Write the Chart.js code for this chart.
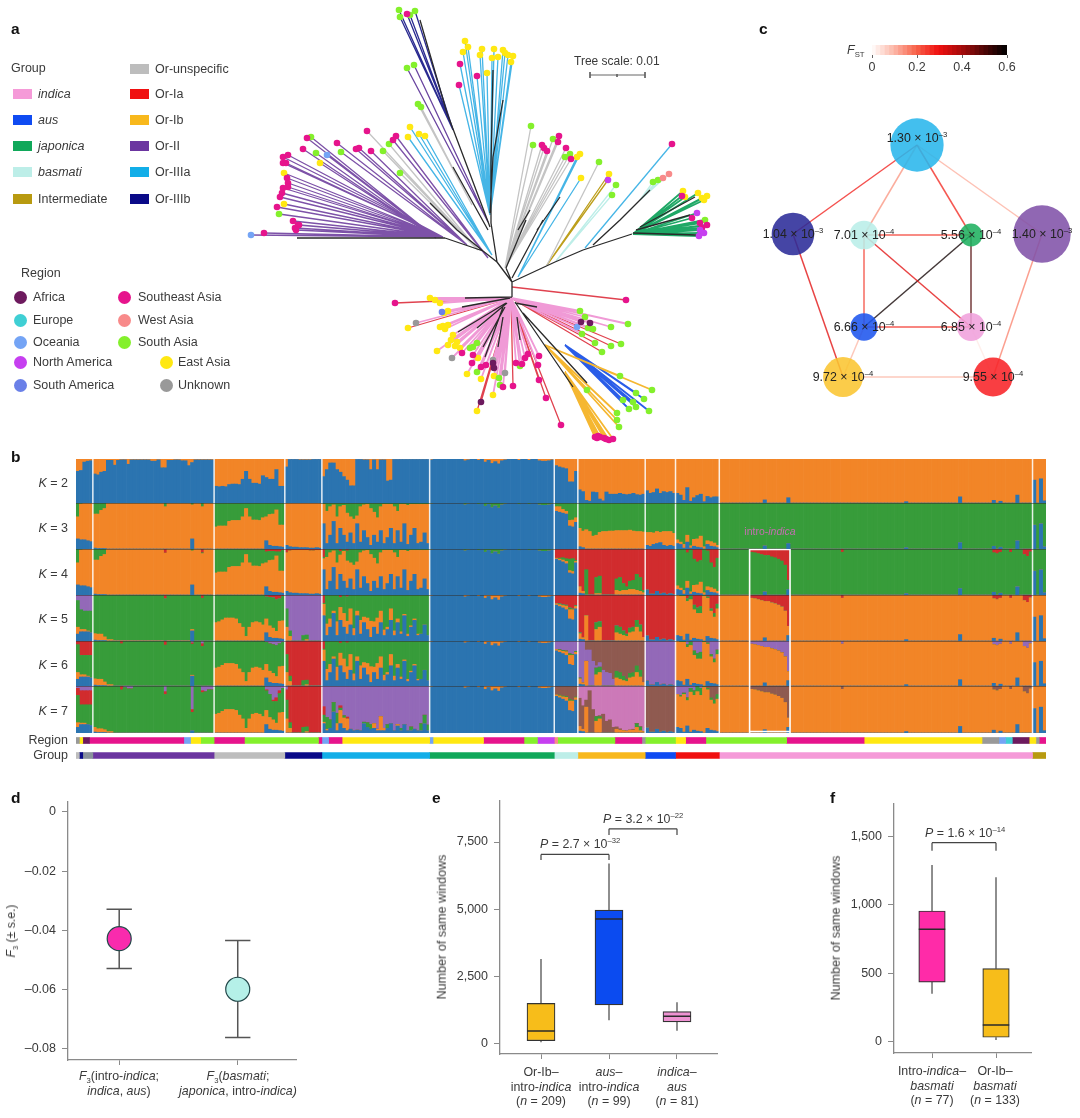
<!DOCTYPE html>
<html>
<head>
<meta charset="utf-8">
<script src="https://cdn.jsdelivr.net/npm/chart.js@4/dist/chart.umd.min.js"></script>
<style>
  html, body { margin: 0; padding: 0; background: #fff; }
  #page { position: relative; width: 1080px; height: 1118px; overflow: hidden; font-family: "Liberation Sans", Arial, sans-serif; color: #3a3a3a; font-size: 12.5px; filter: blur(0.35px); }
  #page canvas { position: absolute; }
  .t { position: absolute; white-space: nowrap; line-height: 1.15; }
  .t sup, .t sub { font-size: 0.62em; line-height: 0; }
  .swatch { position: absolute; }
</style>
</head>
<body>
<div id="page"></div>
<script>
const regionColors = { A: '#6d1a5e', E: '#3fcfd4', O: '#74a4f5', N: '#c63ff0', M: '#6a80e8', S: '#e6148c', W: '#f88a8a', G: '#84f02c', Y: '#ffe812', U: '#999999' };

const leavesIIIb = [[399,10,'G'],[400,17,'G'],[410,15,'G'],[415,11,'G'],[407,14,'S']];
const leavesIIa = [[407,68,'G'],[414,65,'G']];
const leavesIIIaTop = [[465,41,'Y'],[468,47,'Y'],[463,52,'Y'],[460,64,'S'],[459,85,'S'],[482,49,'Y'],[480,55,'Y'],[477,76,'S'],[487,73,'Y'],[494,49,'Y'],[492,58,'Y'],[498,57,'Y'],[503,50,'Y'],[505,53,'Y'],[508,55,'Y'],[513,56,'Y'],[511,62,'Y']];
const leavesGrayTop = [[418,104,'G'],[421,107,'G']];
const leavesIIFan = [[283,157,'S'],[288,155,'S'],[283,163,'S'],[286,163,'S'],[284,173,'Y'],[287,178,'S'],[288,183,'S'],[288,187,'S'],[283,188,'S'],[282,193,'S'],[280,197,'S'],[284,204,'Y'],[277,207,'S'],[279,214,'G'],[293,221,'S'],[298,225,'S'],[295,228,'S'],[299,225,'S'],[296,230,'S'],[264,233,'S'],[251,235,'O']];
const leavesIIb = [[307,138,'S'],[311,137,'G'],[303,149,'S'],[316,153,'G'],[327,155,'O'],[320,163,'Y']];
const leavesIIc = [[337,143,'S'],[341,152,'G'],[356,149,'S'],[359,148,'S'],[371,151,'S']];
const leavesGrayLeft = [[367,131,'S'],[383,151,'G'],[389,144,'G'],[400,173,'G']];
const leavesIId = [[396,136,'S'],[393,140,'S']];
const leavesIIIaLeft = [[410,127,'Y'],[408,137,'Y'],[419,134,'Y'],[425,136,'Y']];
const leavesGrayRight = [[531,126,'G'],[533,145,'G'],[542,145,'S'],[544,148,'S'],[547,151,'S'],[559,136,'S'],[558,142,'S'],[553,139,'G'],[566,148,'S'],[565,157,'G'],[570,154,'G'],[571,159,'S']];
const leavesIIIaMid = [[580,154,'Y'],[577,157,'Y'],[581,178,'Y']];
const leavesGrayFar = [[599,162,'G']];
const leavesIntermediate = [[609,174,'Y'],[608,180,'N']];
const leavesBasmatiA = [[616,185,'G'],[612,195,'G']];
const leavesIIIaFar = [[672,144,'S']];
const leavesBasmatiB = [[653,182,'G'],[658,180,'G'],[663,178,'W'],[669,174,'W']];
const leavesJaponica = [[683,191,'Y'],[685,197,'Y'],[682,196,'S'],[698,193,'Y'],[702,198,'Y'],[707,196,'Y'],[704,200,'Y'],[697,213,'N'],[692,218,'S'],[705,220,'G'],[700,223,'S'],[707,225,'S'],[702,228,'S'],[700,230,'N'],[704,233,'N'],[699,236,'N']];
const leavesIa = [[395,303,'S'],[408,328,'Y'],[481,402,'A'],[477,411,'Y'],[513,386,'S'],[539,380,'S'],[546,398,'S'],[561,425,'S'],[611,346,'G'],[621,344,'G'],[602,352,'G'],[595,343,'G']];
const leavesIaTop = [[626,300,'S']];
const leavesIndica = [[430,298,'Y'],[440,303,'Y'],[435,300,'Y'],[448,311,'Y'],[444,313,'Y'],[442,312,'M'],[416,323,'U'],[443,326,'Y'],[440,327,'Y'],[448,325,'Y'],[445,329,'Y'],[453,335,'Y'],[448,345,'Y'],[457,342,'Y'],[460,348,'Y'],[451,340,'Y'],[455,346,'Y'],[437,351,'Y'],[452,358,'U'],[462,353,'S'],[473,347,'G'],[477,343,'G'],[470,348,'G'],[473,355,'S'],[478,358,'Y'],[472,363,'S'],[467,374,'Y'],[477,372,'G'],[481,367,'S'],[486,365,'S'],[481,379,'Y'],[493,363,'A'],[494,368,'A'],[493,360,'U'],[494,376,'Y'],[499,378,'G'],[505,373,'U'],[503,387,'S'],[500,385,'G'],[493,395,'Y'],[516,363,'S'],[522,364,'S'],[525,358,'S'],[528,354,'S'],[520,366,'G'],[539,356,'S'],[538,365,'S'],[580,311,'G'],[585,317,'G'],[628,324,'G'],[611,327,'G'],[581,322,'A'],[590,323,'A'],[577,327,'O'],[588,328,'G'],[593,329,'G'],[582,334,'G']];
const leavesIbA = [[620,376,'G'],[652,390,'G'],[587,390,'G'],[617,413,'G'],[617,420,'G'],[619,427,'G']];
const leavesIbB = [[597,438,'S'],[600,437,'S'],[598,436,'S'],[604,438,'S'],[606,439,'S'],[609,440,'S'],[613,439,'S'],[595,437,'S']];
const leavesAus = [[636,393,'G'],[644,399,'G'],[649,411,'G'],[623,400,'G'],[633,402,'G'],[629,409,'G'],[636,407,'G']];

// apex x, apex y, branch colour, leaves
const treeClades = [
  [453,130,'#2a2a90',leavesIIIb],
  [488,222,'#6a45a0',leavesIIa],
  [490,215,'#45b5e6',leavesIIIaTop],
  [472,205,'#c4c4c4',leavesGrayTop],
  [443,237,'#7d52a8',leavesIIFan],
  [436,238,'#7d52a8',leavesIIb],
  [467,245,'#7d52a8',leavesIIc],
  [478,250,'#c4c4c4',leavesGrayLeft],
  [488,258,'#7d52a8',leavesIId],
  [492,255,'#45b5e6',leavesIIIaLeft],
  [505,268,'#c4c4c4',leavesGrayRight],
  [518,277,'#45b5e6',leavesIIIaMid],
  [547,265,'#c4c4c4',leavesGrayFar],
  [547,265,'#bd9f1c',leavesIntermediate],
  [556,261,'#bdeee8',leavesBasmatiA],
  [585,248,'#45b5e6',leavesIIIaFar],
  [640,200,'#bdeee8',leavesBasmatiB],
  [633,234,'#1fa866',leavesJaponica],
  [511,298,'#f09ad6',leavesIndica],
  [511,298,'#e0424f',leavesIa],
  [512,287,'#e0424f',leavesIaTop],
  [545,345,'#f5b731',leavesIbA],
  [565,372,'#f5b731',leavesIbB],
  [565,345,'#2a5de8',leavesAus]
];
const wideBranches = ['#f09ad6','#f5b731','#1fa866','#2a5de8'];

// black internal branches: x1, y1, x2, y2
const treeTrunk = [
  [512,282,512,297],[512,282,497,262],[497,262,483,251],[483,251,445,238],[445,238,297,238],
  [497,262,491,223],[491,223,491,163],[491,163,493,70],[503,100,493,157],[493,157,490,213],
  [490,227,447,113],[447,113,420,20],[453,167,488,230],[430,203,457,230],[457,230,483,251],
  [512,282,506,268],[506,268,526,220],[530,210,518,230],[512,278,543,220],[560,197,537,230],
  [512,282,555,262],[555,262,583,250],[583,250,632,234],[593,245,620,220],[620,220,650,190],
  [640,227,695,197],[633,233,697,235],[636,230,690,215],
  [512,297,465,298],[510,298,462,307],[506,303,458,332],[507,303,477,328],[505,307,483,347],
  [503,307,485,357],[503,317,498,347],[515,303,537,307],[515,302,573,387],[523,313,587,383],
  [517,317,520,340]
];
const treeScaleBar = [[590,75,645,75],[590,72,590,78],[645,72,645,78],[617,74,617,77]];

// ---------- data: panel b, admixture ----------
const sectionSizes = [5,36,21,11,32,37,7,20,9,13,93,4];
const introBoxCols = [200,212];
const kValues = [2,3,4,5,6,7];
const admixColors = { blue: '#2b74b0', orange: '#f28527', green: '#379c3a', red: '#d12c2e', purple: '#9369b8', brown: '#8f5a50', pink: '#cc79b8' };
const kComponents = [
  ['blue','orange'],
  ['blue','orange','green'],
  ['blue','orange','green','red'],
  ['blue','orange','green','purple','red'],
  ['blue','orange','green','red','purple','brown'],
  ['blue','orange','green','red','purple','brown','pink']
];

// rows are [run length, percent of component 0, 1, 2 ...]; one component per section takes what is left
const cols = comps => {
  const n = Math.max(...Array.from(comps).filter(Boolean).map(a => a.length));
  const rows = [];
  for (let i = 0; i < n; i++) rows.push([1, ...Array.from(comps, a => (a ? (a[i] || 0) : 0))]);
  return rows;
};
const unrun = runs => runs.flatMap(([n, v]) => Array(n).fill(v));

const s1K2 = [[1,72],[1,74],[1,93],[1,95],[1,96]];
const s1K3 = [[1,22,0,30],[1,20,0,2],[1,20,0,0],[1,18,0,0],[1,16,0,0]];
const s1K5 = [[1,15,15,0,12],[1,20,5,0,32],[1,20,5,0,35],[1,20,2,0,35],[1,18,0,0,35]];
const s1K6 = [[1,15,15,0,8],[1,20,5,0,32],[1,20,5,0,32],[1,20,2,0,32],[1,18,0,0,32]];
const s1K7 = [[1,12,10,0,15,5],[1,18,3,0,30,10],[1,18,3,0,30,10],[1,18,0,0,30,10],[1,16,0,0,30,10]];

const s2K2 = [[1,66],[1,64],[1,70],[1,72],[2,97],[1,86],[1,97],[2,98],[1,88],[6,98],[2,95],[1,98],[2,80],[2,97],[2,98],[2,96],[1,85],[1,92],[6,98]];
const s2K3 = [[1,2,0,24],[1,1,0,24],[1,1,0,16],[1,1,0,12],[17,0,0,1],[1,0,0,8],[7,0,0,1],[1,22,0,4],[2,0,0,1],[1,0,0,8],[3,0,0,1]];
const s2K4 = [[1,2,0,24],[1,1,0,24],[1,1,0,16],[1,1,0,12],[17,0,0,1],[1,0,0,0,9],[7,0,0,1],[1,22,0,3,1],[2,0,0,1],[1,0,0,2,8],[3,0,0,1]];
const s2K5 = [[1,2,14],[1,1,14],[1,1,14],[1,1,8],[2,0,3],[15,0,1],[1,0,0,0,0,8],[7,0,1],[1,22,3],[2,0,0],[1,0,0,0,0,7],[3,0,0]];
const s2K6 = [[1,2,14],[1,1,14],[1,1,14],[1,1,8],[2,0,3],[2,0,0],[1,0,0,0,6],[12,0,0],[1,0,0,0,9],[7,0,0],[1,22,2,0,3,4],[2,0,0],[1,0,0,0,6,6],[3,0,0]];
const s2K7 = [[1,2,10],[1,1,8],[1,1,8],[1,1,6],[2,0,3],[2,0,0],[1,0,0,0,8],[1,0,0,0,0,3],[2,0,0,0,0,6],[9,0,0],[1,0,0,0,6,12],[7,0,0],[1,5,0,0,6,50],[2,0,0],[1,0,0,0,4,10],[1,0,0,0,0,12],[2,0,0,0,0,8]];

const s3BlueK2 = [38,37,38,37,42,43,43,42,54,72,54,45,45,43,62,58,54,54,76,38,38];
const s3Blue = [0,0,0,0,0,0,0,0,0,0,0,0,0,0,0,18,8,6,6,5,4];
const s3OrangeK3 = [48,50,50,50,60,62,62,62,70,88,70,63,63,62,68,52,67,70,79,47,48];
const s3RedK4 = [0,0,0,0,0,0,0,0,0,1,1,1,1,1,1,6,5,5,6,6,3];
const s3OrangeK5 = [40,42,46,50,50,50,48,38,30,10,30,40,42,40,35,30,25,22,15,38,40];
const s3RedK5 = [0,0,0,0,0,0,0,0,0,0,0,0,0,0,0,4,5,6,10,8,3];
const s3PurpleK6 = [0,0,0,0,0,0,0,0,0,0,0,0,0,0,0,3,6,8,10,6,3];
const s3RedK7 = [0,0,0,0,0,0,0,0,0,0,0,0,0,0,0,2,0,3,8,6,0];
const s3PurpleK7 = [0,0,0,0,0,0,0,0,0,0,0,0,0,0,0,8,18,30,25,10,5];

const s4K2 = [[1,82],[3,99],[4,98],[3,99]];
const s4K3 = [[1,8],[1,5],[2,4],[3,3],[2,2],[1,3],[1,2]];
const s4K4 = [[1,8,0,0,8],[1,5,0,0,4],[2,4,0,0,3],[3,3,0,0,3],[2,2,0,0,4],[1,3,0,0,3],[1,2,0,0,3]];
const s4K5 = [[1,0,30,40],[1,0,10,12],[3,0,0,0],[1,0,0,12],[1,0,3,10],[4,0,0,0]];
const s4K7 = [[1,0,30,40,0,8],[1,0,10,12],[3,0,0,0],[1,0,0,12],[1,0,3,10],[4,0,0,0]];

const s5BlueK2 = [60,76,91,91,76,70,60,52,39,39,99,99,98,98,76,98,76,98,98,50,52,99,99,99,99,99,99,99,99,99,99,99];
const s5Blue = [55,12,30,60,12,45,30,15,35,12,55,15,40,25,8,30,15,40,12,25,45,12,40,15,55,10,30,45,12,15,35,12];
const s5GreenK3 = [3,18,8,4,30,8,5,22,30,35,28,8,4,3,12,20,32,8,3,3,3,8,18,3,3,5,3,3,3,3,3,3];
const s5RedK4 = [18,0,0,0,0,5,0,4];
const s5OrangeK5 = [25,25,18,5,30,28,30,28,35,15,10,30,12,25,35,12,35,25,12,5,25,10,8,5,3,5,3,3,3,0,0,0];
const s5BlueK7 = [20,5,10,45,5,20,10,5,8,5,6,5,20,12,8,10,5,5,5,10,20,5,15,5,18,5,5,8,5,5,20,5];
const s5OrangeK7 = [3,3,0,0,15,28,22,25,0,0,0,0,0,0,0,10,3,30,5,0,0,0,3,0,0,0,0,0,0,0,0,0];
const s5GreenK7 = [15,25,18,20,22,5,5,0,0,0,0,0,3,10,10,0,0,0,0,8,0,0,0,5,0,0,8,0,0,15,18,12];

const s6TipRuns = [[1,2],[9,0],[1,4],[1,2],[2,0],[1,3],[1,0],[1,7],[1,3],[1,10],[1,6],[1,11],[1,4],[1,2],[3,0],[1,3],[2,0],[1,3],[2,0],[1,4],[1,5],[1,5],[1,4],[1,2]];
const s6Rows = idx => s6TipRuns.map(([n, v]) => { const row = [n]; row[idx + 1] = v; return row; });

const s7BlueK2 = [85,82,80,78,48,48,72];
const s7BlueK3 = [82,80,78,76,50,48,58];
const s7OrangeK3 = [10,12,8,6,12,15,10];
const s7K4 = [[1,78,2,0],[1,75,3,2],[1,72,4,5],[1,68,5,6],[1,48,5,25],[1,46,5,28],[1,70,3,2]];
const s7K5 = [[1,78,3,0],[1,75,4,2],[1,72,5,2],[1,68,8,2],[1,48,20,4],[1,46,22,2],[1,70,5,2]];

const s8BlueK2 = [30,26,6,4,25,24,9,5,25,20,20,20,22,20,19,20,22,19,18,20];
const s8BlueK3 = [5,3];
const s8OrangeK3 = [40,36,42,38,28,30,36,38,38,39,39,40,40,40,40,41,39,38,38,37];
const s8BlueK4 = [4,3];
const s8OrangeK4 = [14,5,0,0,0,3,3,0,0,0,0,10,8,10,10,12,12,10,8,5];
const s8GreenK4 = [0,0,55,0,0,35,38,0,0,0,0,25,30,15,8,18,20,35,30,5];
const s8OrangeK5 = [12,4,55,0,0,25,30,0,0,0,0,18,15,12,10,18,20,30,20,8];
const s8GreenK5 = [2,0,0,0,0,15,12,0,0,0,0,15,15,10,5,10,10,15,15,0];
const s8PurpleK6 = [83,92,25,80,55,5,10,35,30,28,15];
const s8OrangeK7 = [10,5,55,0,0,25,30,0,0,0,0,8,6,5,4,6,6,12,5,3];
const s8GreenK7 = [0,0,0,0,0,10,5,0,0,0,0,0,0,0,0,0,0,8,8,0];
const s8BrownK7 = [60,50,15,90,50,0,2,40,25,28,12,5,3,0,0,0,2,0,0,0];

const s9BlueK2 = [28,22,24,32,22,26,24,26,22];
const s9BlueK3 = [8,6,10,12,14,8,6,8,6];
const s9OrangeK3 = [28,30,25,26,22,30,32,30,28];
const s9BlueK4 = [11,2,2,8,2,4,1,3,1];

const s10BlueK2 = [22,18,6,35,4,12,17,20,3,15,12,14,14];
const s10Blue = [12,10,2,15,2,6,4,3,0,10,6,5,3];
const s10Orange = [8,5,8,15,5,15,18,25,5,8,10,8,5];
const s10Hang = [0,0,0,8,2,22,28,25,0,4,30,40,20];
const s10Green = [0,3,3,6,8,10,12,15,3,3,5,8,10];
const s10PurpleK7 = [18,20,15,25,5,10,0,5];
const s10BrownK7 = [0,0,0,0,0,0,0,0,0,5,25,30,18];

const s11BlueRuns = [[13,0],[1,7],[6,0],[1,12],[34,0],[1,3],[15,0],[1,14],[9,0],[1,6],[1,0],[1,4],[4,0],[1,18],[4,0]];
const s11HangRuns = [[9,0],[1,7],[1,8],[1,10],[1,12],[1,14],[1,14],[1,17],[1,19],[1,22],[1,26],[1,35],[1,68],[15,0],[1,7],[44,0],[1,8],[1,10],[1,7],[2,0],[1,7],[3,0],[1,12],[1,16],[1,6]];
const s11Rows = hangIdx => { const c = [unrun(s11BlueRuns)]; if (hangIdx) c[hangIdx] = unrun(s11HangRuns); return cols(c); };
const s12Rows = [[1,52],[1,0],[1,55],[1,5]];

// [component that takes the rest, rows] for each of the 12 sections
const panelK2 = [[1,s1K2],[1,s2K2],[1,cols([s3BlueK2])],[1,s4K2],[1,cols([s5BlueK2])],[0,s6Rows(1)],[1,cols([s7BlueK2])],[1,cols([s8BlueK2])],[1,cols([s9BlueK2])],[1,cols([s10BlueK2])],[1,s11Rows(0)],[1,s12Rows]];
const panelK3 = [[1,s1K3],[1,s2K3],[2,cols([s3Blue,s3OrangeK3])],[1,s4K3],[1,cols([s5Blue,null,s5GreenK3])],[0,s6Rows(2)],[2,cols([s7BlueK3,s7OrangeK3])],[2,cols([s8BlueK3,s8OrangeK3])],[2,cols([s9BlueK3,s9OrangeK3])],[2,cols([s10Blue,s10Orange])],[2,s11Rows(0)],[2,s12Rows]];
const panelK4 = [[1,s1K3],[1,s2K4],[2,cols([s3Blue,s3OrangeK3,null,s3RedK4])],[1,s4K4],[1,cols([s5Blue,null,s5GreenK3,s5RedK4])],[0,s6Rows(2)],[3,s7K4],[3,cols([s8BlueK4,s8OrangeK4,s8GreenK4])],[3,cols([s9BlueK4])],[2,cols([s10Blue,s10Orange,null,s10Hang])],[2,s11Rows(3)],[2,s12Rows]];
const panelK5 = [[2,s1K5],[2,s2K5],[2,cols([s3Blue,s3OrangeK5,null,null,s3RedK5])],[3,s4K5],[2,cols([s5Blue,s5OrangeK5,null,null,s5RedK4])],[0,s6Rows(1)],[4,s7K5],[4,cols([s8BlueK4,s8OrangeK5,s8GreenK5])],[4,cols([s9BlueK4])],[1,cols([s10Blue,null,s10Green,null,s10Hang])],[1,s11Rows(4)],[1,s12Rows]];
const panelK6 = [[2,s1K6],[2,s2K6],[2,cols([s3Blue,s3OrangeK5,null,null,s3PurpleK6])],[3,s4K5],[2,cols([s5Blue,s5OrangeK5,null,s5RedK4])],[0,s6Rows(1)],[4,s7K5],[5,cols([s8BlueK4,s8OrangeK5,s8GreenK5,null,s8PurpleK6])],[4,cols([s9BlueK4])],[1,cols([s10Blue,null,s10Green,null,s10Hang])],[1,s11Rows(4)],[1,s12Rows]];
const panelK7 = [[2,s1K7],[2,s2K7],[2,cols([s3Blue,s3OrangeK5,null,s3RedK7,s3PurpleK7])],[3,s4K7],[4,cols([s5BlueK7,s5OrangeK7,s5GreenK7,s5RedK4])],[0,s6Rows(1)],[5,s7K5],[6,cols([s8BlueK4,s8OrangeK7,s8GreenK7,null,null,s8BrownK7])],[5,cols([s9BlueK4])],[1,cols([s10Blue,null,s10Green,null,s10PurpleK7,s10BrownK7])],[1,s11Rows(5)],[1,s12Rows]];
const panels = [panelK2,panelK3,panelK4,panelK5,panelK6,panelK7];

const regionRuns = [['U',1],['Y',1],['A',2],['S',28],['O',2],['Y',3],['G',4],['S',9],['G',22],['S',1],['O',2],['S',4],['Y',26],['O',1],['Y',15],['S',12],['G',4],['N',5],['W',1],['G',17],['S',8],['U',1],['G',9],['Y',3],['S',6],['G',24],['S',23],['Y',35],['U',5],['O',2],['E',2],['A',5],['Y',2],['U',1],['S',2]];
const groupColors = { indica: '#f59ad8', aus: '#0f4bf2', japonica: '#10a85a', basmati: '#bdeee8', inter: '#b89a10', unspec: '#bdbdbd', Ia: '#f01010', Ib: '#f8b81c', II: '#6b35a0', IIIa: '#12aee8', IIIb: '#0a0a88', mixed: '#8a939c' };
const groupRuns = [['unspec',1],['IIIb',1],['mixed',3],['II',36],['unspec',21],['IIIb',11],['IIIa',32],['japonica',37],['basmati',7],['Ib',20],['aus',9],['Ia',13],['indica',93],['inter',4]];

// ---------- data: panel c, network ----------
const nodeX = [177,53,124,231,302,124,231,103,253];
const nodeY = [45,134,135,135,134,227,227,277,277];
const nodeColors = ['#29b6ec','#2b2b98','#b9eee8','#1fb060','#8152a8','#1e55ee','#f0a0dc','#fbc531','#f82328'];
const nodeDiversity = [1.30e-3,1.04e-3,7.01e-4,5.56e-4,1.40e-3,6.66e-4,6.85e-4,9.72e-4,9.55e-4];
const nodeMantissa = ['1.30','1.04','7.01','5.56','1.40','6.66','6.85','9.72','9.55'];
const nodeExponent = [3,3,4,4,3,4,4,4,4];
const edgeFrom = [0,0,0,0,1,2,2,2,3,3,5,5,6,7,4];
const edgeTo = [1,2,3,4,7,3,5,6,5,6,6,7,8,8,8];
const edgeFst = [0.28,0.14,0.27,0.11,0.32,0.25,0.24,0.32,0.58,0.5,0.26,0.1,0.03,0.1,0.16];
const fstLevels = [0.01,0.03,0.05,0.07,0.09,0.11,0.13,0.15,0.17,0.19,0.21,0.23,0.25,0.27,0.29,0.31,0.33,0.35,0.37,0.39,0.41,0.43,0.45,0.47,0.49,0.51,0.53,0.55,0.57,0.59];
const fstTicks = [0,0.2,0.4,0.6];
const fstStops = [[0,255,255,255],[0.1,252,184,168],[0.2,248,98,74],[0.3,239,16,16],[0.4,168,12,12],[0.5,80,6,6],[0.6,0,0,0]];

// ---------- data: panels d, e, f ----------
const f3Value = [-0.0428,-0.0599];
const f3Upper = [-0.0329,-0.0434];
const f3Lower = [-0.0529,-0.0762];
const f3Colors = ['#f92bad','#b5f0e8'];
const f3Ticks = [0,-0.02,-0.04,-0.06,-0.08];

const eLow = [50,870,480];
const eQ1 = [112,1440,810];
const eMedian = [470,4640,1020];
const eQ3 = [1500,4970,1190];
const eHigh = [3150,6700,1540];
const eColors = ['#f7bd1a','#0b4bf0','#ee92d2'];
const eTicks = [0,2500,5000,7500];
const eBrackets = [[0,1,7040,6830],[1,2,7990,7760]];

const fLow = [351,12];
const fQ1 = [436,32];
const fMedian = [822,122];
const fQ3 = [956,534];
const fHigh = [1292,1202];
const fColors = ['#ff2ba8','#f7bd1a'];
const fTicks = [0,500,1000,1500];
const fBrackets = [[0,1,1456,1397]];

// ---------- page helpers ----------
Chart.defaults.font.family = '"Liberation Sans", Arial, sans-serif';
Chart.defaults.font.size = 12;
Chart.defaults.color = '#3a3a3a';
Chart.defaults.animation = false;
Chart.defaults.responsive = false;
Chart.defaults.layout.autoPadding = false;
Chart.defaults.plugins.legend.display = false;
Chart.defaults.plugins.tooltip.enabled = false;

const page = document.getElementById('page');

function addCanvas(left, top, w, h) {
  const c = document.createElement('canvas');
  c.width = w; c.height = h;
  c.style.left = left + 'px'; c.style.top = top + 'px';
  page.appendChild(c);
  return c;
}

// anchor: l = left edge, c = centre, r = right edge; y is always the middle of the line
function addText(x, y, html, anchor, css) {
  const d = document.createElement('div');
  d.className = 't';
  d.innerHTML = html;
  d.style.left = x + 'px'; d.style.top = y + 'px';
  const tx = anchor === 'c' ? '-50%' : anchor === 'r' ? '-100%' : '0';
  d.style.transform = 'translate(' + tx + ',-50%)';
  if (css) d.style.cssText += css;
  page.appendChild(d);
  return d;
}

function fstColor(v) {
  for (let i = 1; i < fstStops.length; i++) {
    if (v <= fstStops[i][0]) {
      const a = fstStops[i - 1], b = fstStops[i], t = (v - a[0]) / (b[0] - a[0]);
      return 'rgb(' + [1, 2, 3].map(k => Math.round(a[k] + (b[k] - a[k]) * t)).join(',') + ')';
    }
  }
  return 'rgb(0,0,0)';
}

// chart.js reserves room for the outer tick labels, these axes do not need it
function noMargins(s) {
  s.paddingTop = 0; s.paddingBottom = 0; s.paddingLeft = 0; s.paddingRight = 0;
}

// ---------- panel a ----------
function segments(list) {
  const pts = [];
  list.forEach(s => { pts.push({ x: s[0], y: s[1] }, { x: s[2], y: s[3] }, { x: null, y: null }); });
  return pts;
}

const treeDatasets = [];
Object.keys(regionColors).forEach(code => {
  const pts = [];
  treeClades.forEach(cl => cl[3].forEach(l => { if (l[2] === code) pts.push({ x: l[0], y: l[1] }); }));
  treeDatasets.push({ data: pts, backgroundColor: regionColors[code], borderWidth: 0, pointRadius: 3.3, showLine: false, order: 0 });
});
treeDatasets.push({ data: segments(treeScaleBar), showLine: true, borderColor: '#666', borderWidth: 1, pointRadius: 0, order: 0 });
treeDatasets.push({ data: segments(treeTrunk), showLine: true, borderColor: '#2a2a2a', borderWidth: 1.3, pointRadius: 0, order: 1 });
treeClades.forEach(cl => {
  const segs = cl[3].map(l => [cl[0], cl[1], l[0], l[1]]);
  treeDatasets.push({ data: segments(segs), showLine: true, borderColor: cl[2], borderWidth: wideBranches.includes(cl[2]) ? 1.8 : 1.3, pointRadius: 0, order: 2 });
});

new Chart(addCanvas(0, 0, 720, 450), {
  type: 'scatter',
  data: { datasets: treeDatasets },
  options: {
    layout: { padding: 0 },
    scales: {
      x: { display: false, min: 0, max: 720 },
      y: { display: false, min: 0, max: 450, reverse: true }
    }
  }
});
addText(574, 62, 'Tree scale: 0.01', 'l', 'font-size:12px;');

const letterCss = 'font-weight:bold;font-size:15.5px;color:#111;';
addText(11, 29, 'a', 'l', letterCss);
addText(11, 457, 'b', 'l', letterCss);
addText(759, 29, 'c', 'l', letterCss);
addText(11, 798, 'd', 'l', letterCss);
addText(432, 798, 'e', 'l', letterCss);
addText(830, 798, 'f', 'l', letterCss);

const groupLegendLeft = [['indica','<i>indica</i>',94],['aus','<i>aus</i>',120],['japonica','<i>japonica</i>',146],['basmati','<i>basmati</i>',172],['inter','Intermediate',199]];
const groupLegendRight = [['unspec','Or-unspecific',69],['Ia','Or-Ia',94],['Ib','Or-Ib',120],['II','Or-II',146],['IIIa','Or-IIIa',172],['IIIb','Or-IIIb',199]];
addText(11, 68, 'Group', 'l');
function swatch(x, y, col) {
  const s = document.createElement('div');
  s.className = 'swatch';
  s.style.cssText = 'left:' + x + 'px;top:' + (y - 5) + 'px;width:19px;height:10px;background:' + col + ';';
  page.appendChild(s);
}
groupLegendLeft.forEach(g => { swatch(13, g[2], groupColors[g[0]]); addText(38, g[2], g[1], 'l'); });
groupLegendRight.forEach(g => { swatch(130, g[2], groupColors[g[0]]); addText(155, g[2], g[1], 'l'); });

addText(21, 273, 'Region', 'l');
const regionLegend = [['A','Africa',20,297,33],['E','Europe',20,320,33],['O','Oceania',20,342,33],['N','North America',20,362,33],['M','South America',20,385,33],['S','Southeast Asia',124,297,138],['W','West Asia',124,320,138],['G','South Asia',124,342,138],['Y','East Asia',166,362,178],['U','Unknown',166,385,178]];
regionLegend.forEach(r => {
  const s = document.createElement('div');
  s.className = 'swatch';
  s.style.cssText = 'left:' + (r[2] - 6.5) + 'px;top:' + (r[3] - 6.5) + 'px;width:13px;height:13px;border-radius:50%;background:' + regionColors[r[0]] + ';';
  page.appendChild(s);
  addText(r[4], r[3], r[1], 'l');
});

// ---------- panel b ----------
const totalCols = sectionSizes.reduce((a, b) => a + b, 0);
const colLabels = [];
for (let i = 0; i < totalCols; i++) colLabels.push(String(i));

function expandPanel(sections, nComp) {
  const series = [];
  for (let c = 0; c < nComp; c++) series.push([]);
  sections.forEach((sec, si) => {
    const rest = sec[0];
    let left = sectionSizes[si];
    const rows = sec[1];
    const put = vals => {
      let sum = 0;
      for (let c = 0; c < nComp; c++) {
        if (c === rest) continue;
        const v = vals[c] || 0;
        series[c].push(v); sum += v;
      }
      series[rest].push(Math.max(0, 100 - sum));
      left--;
    };
    rows.forEach(r => { for (let n = 0; n < r[0] && left > 0; n++) put(r.slice(1)); });
    const last = rows[rows.length - 1].slice(1);
    while (left > 0) put(last);
  });
  return series;
}

const boundaries = [];
sectionSizes.slice(0, -1).reduce((a, b) => { boundaries.push(a + b); return a + b; }, 0);

function panelOverlay(k) {
  return {
    id: 'overlay',
    afterDraw(chart) {
      const { ctx, chartArea: a, scales: { x } } = chart;
      ctx.save();
      ctx.strokeStyle = 'rgba(255,255,255,0.88)';
      ctx.lineWidth = 1.5;
      boundaries.forEach(b => {
        const px = x.getPixelForValue(b - 0.5);
        ctx.beginPath(); ctx.moveTo(px, a.top); ctx.lineTo(px, a.bottom); ctx.stroke();
      });
      if (k > 0) {
        ctx.strokeStyle = 'rgba(50,50,50,0.55)';
        ctx.lineWidth = 1;
        ctx.beginPath(); ctx.moveTo(a.left, a.top + 0.5); ctx.lineTo(a.right, a.top + 0.5); ctx.stroke();
      }
      if (k >= 2) {
        const l = x.getPixelForValue(introBoxCols[0] - 0.5), r = x.getPixelForValue(introBoxCols[1] - 0.5);
        ctx.strokeStyle = '#fff';
        ctx.lineWidth = 1.6;
        ctx.beginPath();
        ctx.moveTo(l, a.top); ctx.lineTo(l, a.bottom);
        ctx.moveTo(r, a.top); ctx.lineTo(r, a.bottom);
        if (k === 2) { ctx.moveTo(l, a.top + 0.5); ctx.lineTo(r, a.top + 0.5); }
        if (k === 5) { ctx.moveTo(l, a.bottom - 1.5); ctx.lineTo(r, a.bottom - 1.5); }
        ctx.stroke();
      }
      ctx.restore();
    }
  };
}

const panelTop = [459,503,549,595,641,686];
const panelHeight = [44,46,46,46,45,47];
const kLabelY = [483,528,574,619,665,711];

panels.forEach((sections, k) => {
  const comps = kComponents[k];
  const series = expandPanel(sections, comps.length);
  new Chart(addCanvas(76, panelTop[k], 970, panelHeight[k]), {
    type: 'bar',
    data: {
      labels: colLabels,
      datasets: comps.map((name, c) => ({ data: series[c], backgroundColor: admixColors[name], borderWidth: 0, barPercentage: 1, categoryPercentage: 1 }))
    },
    options: {
      layout: { padding: 0 },
      scales: {
        x: { display: false, stacked: true },
        y: { display: false, stacked: true, min: 0, max: 100 }
      }
    },
    plugins: [panelOverlay(k)]
  });
  addText(68, kLabelY[k], '<i>K</i> = ' + kValues[k], 'r');
});
addText(770, 531, 'intro-<i>indica</i>', 'c', 'font-size:10.5px;color:#c46fb0;');

const stripDatasets = [];
regionRuns.forEach(r => stripDatasets.push({ data: [r[1], null], backgroundColor: regionColors[r[0]], borderWidth: 0, barThickness: 6 }));
groupRuns.forEach(r => stripDatasets.push({ data: [null, r[1]], backgroundColor: groupColors[r[0]], borderWidth: 0, barThickness: 6 }));
new Chart(addCanvas(0, 733, 1046, 30), {
  type: 'bar',
  data: { labels: ['Region', 'Group'], datasets: stripDatasets },
  options: {
    indexAxis: 'y',
    layout: { padding: 0 },
    scales: {
      x: { display: false, stacked: true, min: 0, max: totalCols },
      y: {
        stacked: true,
        afterFit(s) { s.width = 76; noMargins(s); },
        grid: { display: false, drawTicks: false },
        border: { display: false },
        ticks: { font: { size: 12.5 }, padding: 8, autoSkip: false }
      }
    }
  }
});

// ---------- panel c ----------
new Chart(addCanvas(850, 45, 170, 32), {
  type: 'bar',
  data: {
    datasets: [{
      data: fstLevels.map(v => ({ x: v, y: 1 })),
      backgroundColor: fstLevels.map(fstColor),
      borderWidth: 0,
      barThickness: 5.5
    }]
  },
  options: {
    layout: { padding: { left: 22, right: 13 } },
    scales: {
      x: {
        type: 'linear', min: 0, max: 0.6, offset: false,
        afterBuildTicks(s) { s.ticks = fstTicks.map(v => ({ value: v })); },
        afterFit(s) { s.height = 22; noMargins(s); },
        grid: { offset: false, drawOnChartArea: false, tickLength: 3, color: '#666' },
        border: { display: false },
        ticks: { maxRotation: 0, autoSkip: false, padding: 2, font: { size: 12.5 }, callback: v => String(v) }
      },
      y: { display: false, min: 0, max: 1 }
    }
  }
});
addText(847, 50, '<i>F</i><sub>ST</sub>', 'l');

const edgeDatasets = edgeFrom.map((a, i) => ({
  data: [{ x: nodeX[a], y: nodeY[a] }, { x: nodeX[edgeTo[i]], y: nodeY[edgeTo[i]] }],
  showLine: true,
  borderColor: fstColor(edgeFst[i]).replace('rgb(', 'rgba(').replace(')', ',0.78)'),
  borderWidth: 1.5,
  pointRadius: 0,
  order: 2
}));
const netChart = new Chart(addCanvas(740, 100, 340, 310), {
  type: 'scatter',
  data: {
    datasets: [{
      data: nodeX.map((x, i) => ({ x: x, y: nodeY[i] })),
      backgroundColor: nodeColors.map(c => c + 'e0'),
      borderWidth: 0,
      pointRadius: nodeDiversity.map(v => v * 20500),
      order: 1
    }].concat(edgeDatasets)
  },
  options: {
    layout: { padding: 0 },
    scales: {
      x: { display: false, min: 0, max: 340 },
      y: { display: false, min: 0, max: 310, reverse: true }
    }
  }
});
nodeX.forEach((x, i) => {
  const px = 740 + netChart.scales.x.getPixelForValue(x);
  const py = 100 + netChart.scales.y.getPixelForValue(nodeY[i]) - (i === 0 ? 7 : 0);
  addText(px, py, nodeMantissa[i] + ' × 10<sup>–' + nodeExponent[i] + '</sup>', 'c', 'font-size:12.4px;color:#222;');
});

// ---------- shared axes for d, e, f ----------
function axisChart(o) {
  return new Chart(addCanvas(o.left, o.top, o.width, o.height), {
    type: 'bar',
    data: { datasets: o.datasets },
    options: {
      layout: { padding: 0 },
      scales: {
        x: {
          type: 'linear', min: o.xMin, max: o.xMax, offset: false,
          afterBuildTicks(s) { s.ticks = o.xTicks.map(v => ({ value: v })); },
          afterFit(s) { s.height = 8; noMargins(s); },
          grid: { offset: false, drawOnChartArea: false, tickLength: 5, color: '#8a8a8a' },
          border: { color: '#8a8a8a', width: 1.3 },
          ticks: { display: false }
        },
        y: {
          min: o.yMin, max: o.yMax,
          afterBuildTicks(s) { s.ticks = o.yTicks.map(v => ({ value: v })); },
          afterFit(s) { s.width = o.yWidth; noMargins(s); },
          grid: { drawOnChartArea: false, tickLength: 6, color: '#8a8a8a' },
          border: { color: '#8a8a8a', width: 1.3 },
          ticks: { padding: 6, font: { size: 12.5 }, callback: o.format }
        }
      }
    }
  });
}

function boxDatasets(low, q1, med, q3, high, colors, thickness, halfWidth, brackets) {
  const whiskers = [], medians = [];
  low.forEach((v, i) => {
    whiskers.push([i, low[i], i, q1[i]], [i, q3[i], i, high[i]]);
    medians.push([i - halfWidth, med[i], i + halfWidth, med[i]]);
  });
  const bracketSegs = [];
  brackets.forEach(b => {
    bracketSegs.push([b[0], b[3], b[0], b[2]], [b[0], b[2], b[1], b[2]], [b[1], b[2], b[1], b[3]]);
  });
  return [
    { type: 'line', data: segments(medians), borderColor: '#2a2a2a', borderWidth: 1.5, pointRadius: 0, order: 0 },
    { data: low.map((v, i) => ({ x: i, y: [q1[i], q3[i]] })), backgroundColor: colors, borderColor: '#333', borderWidth: 1.2, borderSkipped: false, barThickness: thickness, order: 1 },
    { type: 'line', data: segments(whiskers), borderColor: '#444', borderWidth: 1.2, pointRadius: 0, order: 2 },
    { type: 'line', data: segments(bracketSegs), borderColor: '#444', borderWidth: 1.2, pointRadius: 0, order: 2 }
  ];
}

// ---------- panel d ----------
const f3Error = [];
f3Value.forEach((v, i) => {
  f3Error.push([i, f3Lower[i], i, f3Upper[i]], [i - 0.107, f3Upper[i], i + 0.107, f3Upper[i]], [i - 0.107, f3Lower[i], i + 0.107, f3Lower[i]]);
});
axisChart({
  left: 8, top: 801, width: 289, height: 267, yWidth: 60,
  xMin: -0.432, xMax: 1.5, xTicks: [0, 1],
  yMin: -0.0838, yMax: 0.0037, yTicks: f3Ticks,
  format: v => (v === 0 ? '0' : '–' + Math.abs(v).toFixed(2)),
  datasets: [
    { type: 'scatter', data: f3Value.map((v, i) => ({ x: i, y: v })), backgroundColor: f3Colors, borderColor: '#23484a', borderWidth: 1.2, pointRadius: 12, order: 0 },
    { type: 'line', data: segments(f3Error), borderColor: '#555', borderWidth: 1.5, pointRadius: 0, order: 1 }
  ]
});
const labelCss = 'font-size:12.4px;';
addText(11, 931, '<i>F</i><sub>3</sub> (± s.e.)', 'c', 'font-size:12.2px;transform:translate(-50%,-50%) rotate(-90deg);');
addText(119, 1076, '<i>F</i><sub>3</sub>(intro-<i>indica</i>;', 'c', labelCss);
addText(119, 1091, '<i>indica</i>, <i>aus</i>)', 'c', labelCss);
addText(238, 1076, '<i>F</i><sub>3</sub>(<i>basmati</i>;', 'c', labelCss);
addText(238, 1091, '<i>japonica</i>, intro-<i>indica)</i>', 'c', labelCss);

// ---------- panel e ----------
axisChart({
  left: 445, top: 800, width: 273, height: 262, yWidth: 55,
  xMin: -0.603, xMax: 2.603, xTicks: [0, 1, 2],
  yMin: -383, yMax: 9062, yTicks: eTicks,
  format: v => v.toLocaleString('en-US'),
  datasets: boxDatasets(eLow, eQ1, eMedian, eQ3, eHigh, eColors, 28, 0.205, eBrackets)
});
addText(442, 927, 'Number of same windows', 'c', 'font-size:12.6px;transform:translate(-50%,-50%) rotate(-90deg);');
addText(541, 1072, 'Or-Ib–', 'c', labelCss);
addText(541, 1087, 'intro-<i>indica</i>', 'c', labelCss);
addText(541, 1101, '(<i>n</i> = 209)', 'c', labelCss);
addText(609, 1072, '<i>aus</i>–', 'c', labelCss);
addText(609, 1087, 'intro-<i>indica</i>', 'c', labelCss);
addText(609, 1101, '(<i>n</i> = 99)', 'c', labelCss);
addText(677, 1072, '<i>indica</i>–', 'c', labelCss);
addText(677, 1087, '<i>aus</i>', 'c', labelCss);
addText(677, 1101, '(<i>n</i> = 81)', 'c', labelCss);
addText(540, 844, '<i>P</i> = 2.7 × 10<sup>–32</sup>', 'l', labelCss);
addText(603, 819, '<i>P</i> = 3.2 × 10<sup>–22</sup>', 'l', labelCss);

// ---------- panel f ----------
axisChart({
  left: 840, top: 803, width: 192, height: 258, yWidth: 54,
  xMin: -0.594, xMax: 1.5625, xTicks: [0, 1],
  yMin: -83, yMax: 1746, yTicks: fTicks,
  format: v => v.toLocaleString('en-US'),
  datasets: boxDatasets(fLow, fQ1, fMedian, fQ3, fHigh, fColors, 26.5, 0.207, fBrackets)
});
addText(836, 928, 'Number of same windows', 'c', 'font-size:12.6px;transform:translate(-50%,-50%) rotate(-90deg);');
addText(932, 1071, 'Intro-<i>indica</i>–', 'c', labelCss);
addText(932, 1086, '<i>basmati</i>', 'c', labelCss);
addText(932, 1100, '(<i>n</i> = 77)', 'c', labelCss);
addText(995, 1071, 'Or-Ib–', 'c', labelCss);
addText(995, 1086, '<i>basmati</i>', 'c', labelCss);
addText(995, 1100, '(<i>n</i> = 133)', 'c', labelCss);
addText(925, 833, '<i>P</i> = 1.6 × 10<sup>–14</sup>', 'l', labelCss);
</script>
</body>
</html>
